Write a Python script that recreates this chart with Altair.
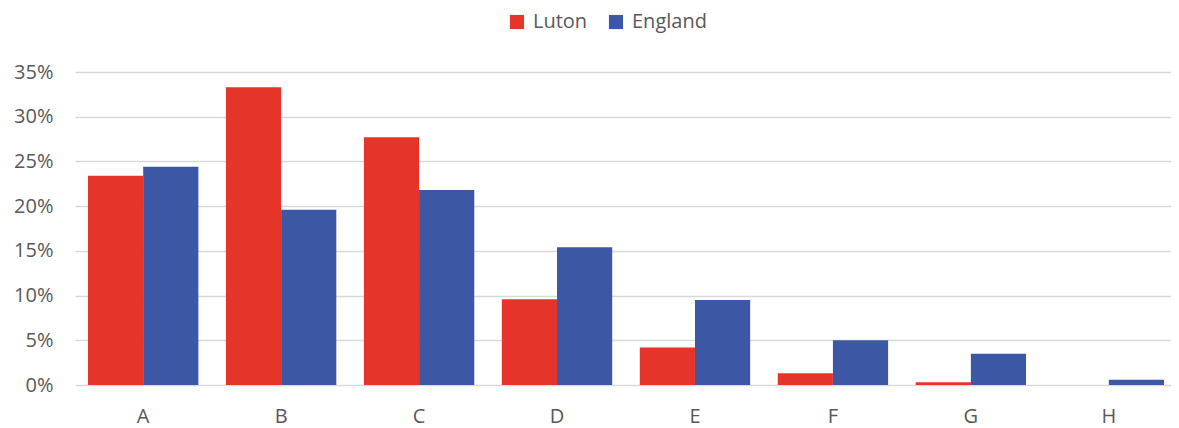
import altair as alt
import pandas as pd

categories = ["A", "B", "C", "D", "E", "F", "G", "H"]
luton = [23.4, 33.3, 27.7, 9.6, 4.2, 1.3, 0.3, 0.0]
england = [24.4, 19.6, 21.8, 15.4, 9.5, 5.0, 3.5, 0.6]
series = ["Luton", "England"]
colors = ["#E5352A", "#3C58A4"]

rows = []
for c, l, e in zip(categories, luton, england):
    rows.append({"cat": c, "series": "Luton", "value": l / 100})
    rows.append({"cat": c, "series": "England", "value": e / 100})
df = pd.DataFrame(rows)

FONT = "Open Sans"

chart = alt.Chart(df).mark_bar().encode(
    x=alt.X("cat:N", sort=categories,
            scale=alt.Scale(paddingInner=0.2, paddingOuter=0.0725, align=0.65),
            axis=alt.Axis(title=None, labelAngle=0, ticks=False, domain=False,
                          labelPadding=21, labelFontSize=20, labelFont=FONT,
                          labelColor="#595959")),
    xOffset=alt.XOffset("series:N", sort=series),
    y=alt.Y("value:Q", scale=alt.Scale(domain=[0, 0.35], nice=False),
            axis=alt.Axis(title=None, format=".0%", values=[0, 0.05, 0.1, 0.15, 0.2, 0.25, 0.3, 0.35],
                          ticks=False, domain=False, labelPadding=22,
                          labelFontSize=20, labelFont=FONT, labelColor="#595959",
                          gridColor="#D9D9D9", gridWidth=1.5)),
    color=alt.Color("series:N", sort=series,
                    scale=alt.Scale(domain=series, range=colors),
                    legend=alt.Legend(title=None, orient="none", direction="horizontal",
                                      legendX=432, legendY=-60,
                                      symbolType="square", symbolSize=200,
                                      symbolStrokeWidth=0,
                                      labelFontSize=20, labelFont=FONT,
                                      labelColor="#595959", columnPadding=18,
                                      labelOffset=6)),
).properties(
    width=1096, height=313,
    autosize=alt.AutoSizeParams(type="none"),
    padding={"left": 67, "top": 64, "right": 0, "bottom": 48},
).configure_view(stroke=None)

chart.save("out.html", embed_options={"renderer": "svg", "actions": False})
